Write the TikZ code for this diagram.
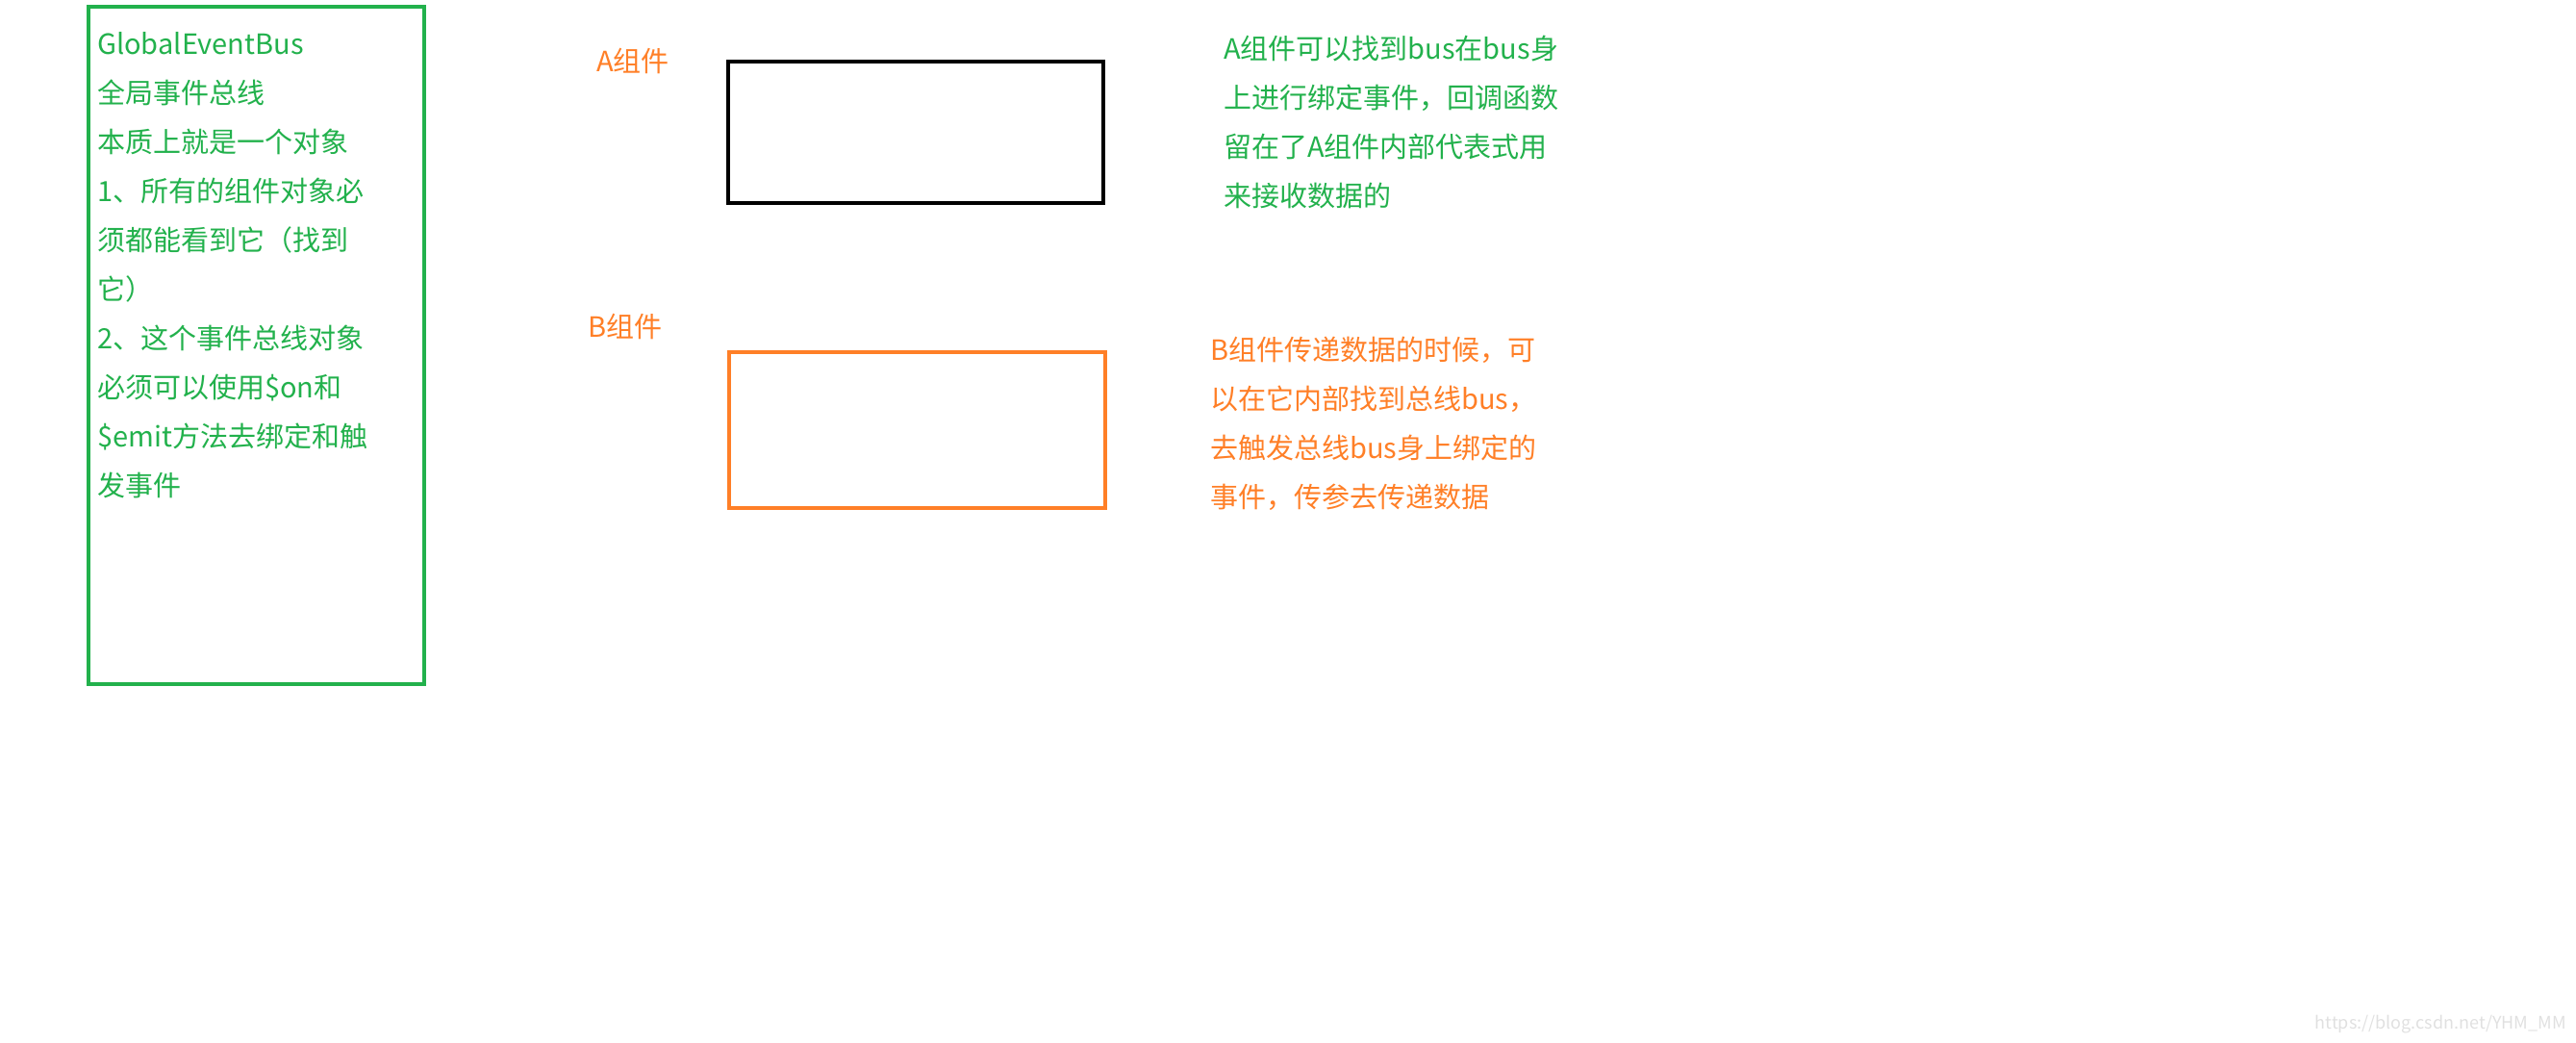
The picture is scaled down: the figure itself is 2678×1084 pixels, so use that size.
\documentclass[tikz,border=0pt]{standalone}
\usepackage{fontspec}
\setmainfont{Noto Sans CJK SC}
\definecolor{grn}{RGB}{34,177,76}
\definecolor{org}{RGB}{255,127,39}
\begin{document}
\begin{tikzpicture}[x=1pt,y=-1pt,
  txt/.style={anchor=west,inner sep=0pt,font=\fontsize{29}{51}\selectfont},
  blk/.style={txt,align=left,anchor=north west}]
\useasboundingbox (0,0) rectangle (2678,1084);
\draw[grn,line width=4.5pt] (92,7) rectangle (441,711);
\node[blk,text=grn] (g) at (101,33) {GlobalEventBus\\全局事件总线\\本质上就是一个对象\\1、所有的组件对象必\\须都能看到它（找到\\它）\\2、这个事件总线对象\\必须可以使用\$on和\\\$emit方法去绑定和触\\发事件};
\draw[black,line width=4.5pt] (757,64) rectangle (1147,211) node[coordinate] (abox) {};
\draw[org,line width=4.5pt] (758,366) rectangle (1149,528) node[coordinate] (bbox) {};
\node[txt,text=org] (la) at (620,63) {A组件};
\node[txt,text=org] (lb) at (611,339) {B组件};
\node[blk,text=grn] (ta) at (1272,37) {A组件可以找到bus在bus身\\上进行绑定事件，回调函数\\留在了A组件内部代表式用\\来接收数据的};
\node[blk,text=org] (tb) at (1258,350) {B组件传递数据的时候，可\\以在它内部找到总线bus，\\去触发总线bus身上绑定的\\事件，传参去传递数据};
\node[anchor=east,inner sep=0pt,text=black!12,font=\fontsize{18}{20}\selectfont] (wm) at (2668,1065) {https://blog.csdn.net/YHM\_MM};
\end{tikzpicture}
\end{document}
